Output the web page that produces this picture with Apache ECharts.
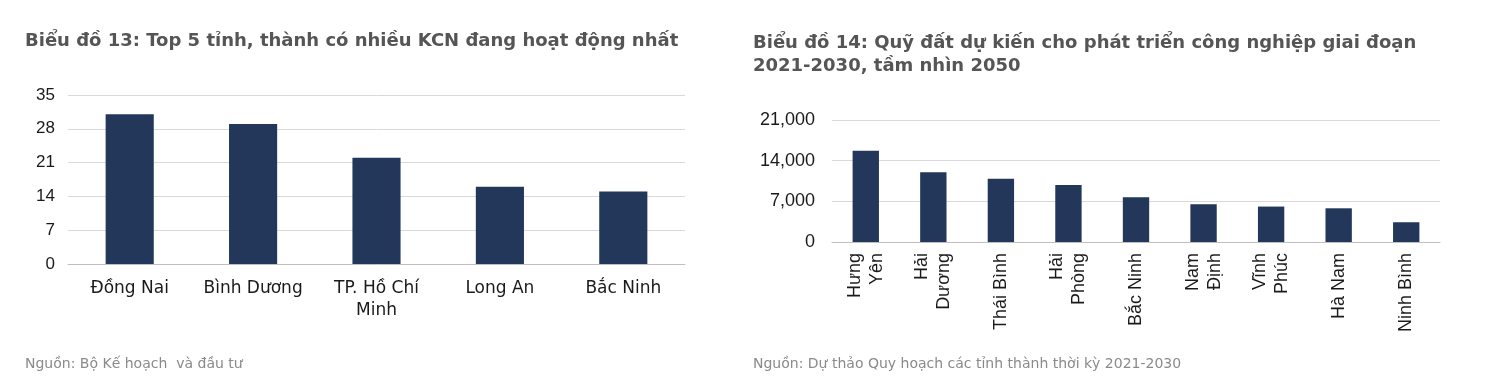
<!DOCTYPE html>
<html>
<head>
<meta charset="utf-8">
<script src="https://cdn.jsdelivr.net/npm/echarts@6/dist/echarts.min.js"></script>
<style>
  html, body { margin: 0; padding: 0; background: #fff; }
  #chart { width: 1501px; height: 378px; }
</style>
</head>
<body>
<div id="chart"></div>
<script>
// Biểu đồ 13
const provinces13 = ["Đồng Nai", "Bình Dương", "TP. Hồ Chí\nMinh", "Long An", "Bắc Ninh"];
const parks13 = [31, 29, 22, 16, 15];
const ticks13 = { min: 0, max: 35, interval: 7 };

// Biểu đồ 14
const provinces14 = ["Hưng\nYên", "Hải\nDương", "Thái Bình", "Hải\nPhòng", "Bắc Ninh", "Nam\nĐịnh", "Vĩnh\nPhúc", "Hà Nam", "Ninh Bình"];
const land14 = [15700, 12000, 10900, 9800, 7700, 6500, 6100, 5800, 3400];
const ticks14 = { min: 0, max: 21000, interval: 7000 };

const barColor = "#22375a";
const titleStyle = { color: "#555555", fontSize: 18, fontWeight: "bold", fontFamily: "DejaVu Sans", lineHeight: 23 };
const sourceStyle = { color: "#8a8a8a", fontSize: 14, fontWeight: "normal", fontFamily: "DejaVu Sans" };
const labelFont = "Liberation Sans";

const chart = echarts.init(document.getElementById("chart"));

const option = {
  animation: false,
  title: [
    { text: "Biểu đồ 13: Top 5 tỉnh, thành có nhiều KCN đang hoạt động nhất", left: 25, top: 30, padding: 0, textStyle: titleStyle },
    { text: "Biểu đồ 14: Quỹ đất dự kiến cho phát triển công nghiệp giai đoạn\n2021-2030, tầm nhìn 2050", left: 753, top: 32, padding: 0, textStyle: titleStyle },
    { text: "Nguồn: Bộ Kế hoạch  và đầu tư", left: 25, top: 357, padding: 0, textStyle: sourceStyle },
    { text: "Nguồn: Dự thảo Quy hoạch các tỉnh thành thời kỳ 2021-2030", left: 753, top: 357, padding: 0, textStyle: sourceStyle }
  ],
  grid: [
    { left: 68, right: 816, top: 95, bottom: 114 },
    { left: 832, right: 61, top: 120, bottom: 136 }
  ],
  xAxis: [
    {
      type: "category",
      gridIndex: 0,
      data: provinces13,
      axisLine: { lineStyle: { color: "#bfbfbf" } },
      axisTick: { alignWithLabel: true, length: 5, lineStyle: { color: "#bfbfbf" } },
      axisLabel: { color: "#1a1a1a", fontSize: 17, fontFamily: "DejaVu Sans", margin: 14, lineHeight: 22, interval: 0 }
    },
    {
      type: "category",
      gridIndex: 1,
      data: provinces14,
      axisLine: { lineStyle: { color: "#bfbfbf" } },
      axisTick: { alignWithLabel: true, length: 5, lineStyle: { color: "#bfbfbf" } },
      axisLabel: { color: "#1a1a1a", fontSize: 18, fontFamily: labelFont, margin: 11, lineHeight: 22, rotate: 90, interval: 0 }
    }
  ],
  yAxis: [
    {
      type: "value",
      gridIndex: 0,
      min: ticks13.min, max: ticks13.max, interval: ticks13.interval,
      axisLine: { show: false },
      axisTick: { show: false },
      splitLine: { lineStyle: { color: "#d9d9d9" } },
      axisLabel: { color: "#1a1a1a", fontSize: 17, fontFamily: labelFont, margin: 13 }
    },
    {
      type: "value",
      gridIndex: 1,
      min: ticks14.min, max: ticks14.max, interval: ticks14.interval,
      axisLine: { show: false },
      axisTick: { show: false },
      splitLine: { lineStyle: { color: "#d9d9d9" } },
      axisLabel: {
        color: "#1a1a1a", fontSize: 18, fontFamily: labelFont, margin: 17,
        formatter: (v) => v.toLocaleString("en-US")
      }
    }
  ],
  series: [
    {
      type: "bar",
      xAxisIndex: 0,
      yAxisIndex: 0,
      data: parks13,
      barWidth: "39%",
      itemStyle: { color: barColor }
    },
    {
      type: "bar",
      xAxisIndex: 1,
      yAxisIndex: 1,
      data: land14,
      barWidth: "39%",
      itemStyle: { color: barColor }
    }
  ]
};

chart.setOption(option);
</script>
</body>
</html>
